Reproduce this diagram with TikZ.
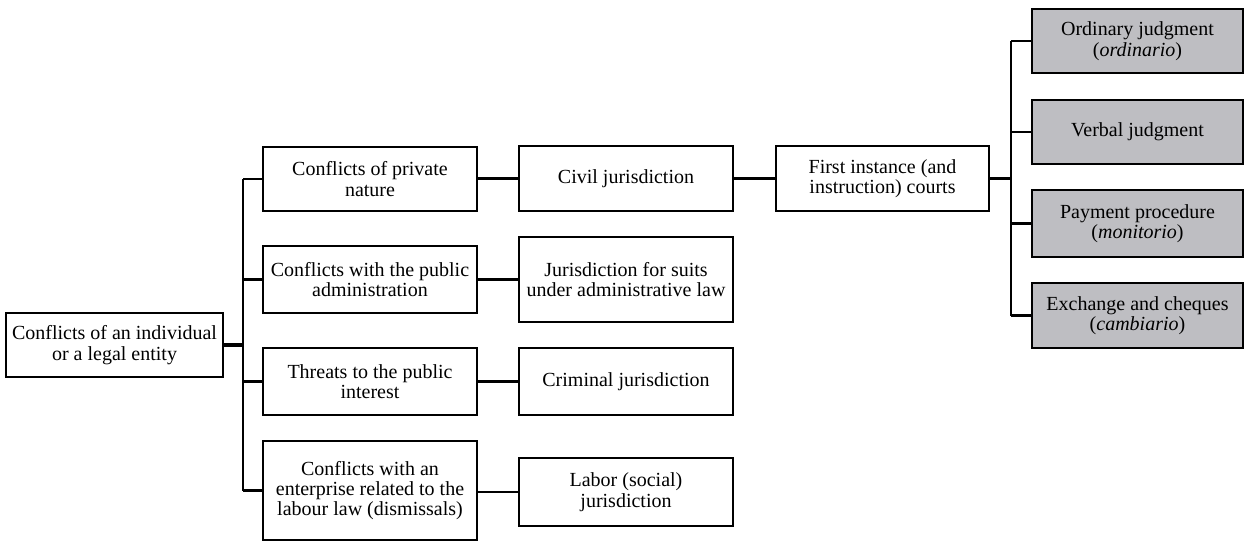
\documentclass[tikz,border=0pt]{standalone}
\usepackage{fontspec}
\setmainfont{Liberation Serif}
\definecolor{boxgrey}{RGB}{190,190,194}
\begin{document}
\begin{tikzpicture}[x=0.5pt,y=-0.5pt,
  box/.style={draw=black,line width=1.35pt,rectangle,inner sep=0pt,align=center,
    font=\fontsize{10}{10.2}\selectfont},
  greybox/.style={box,fill=boxgrey},
  conn/.style={line width=1.05pt},
  thick conn/.style={line width=1.6pt}]
\useasboundingbox (0,0) rectangle (1246,542);
% root
\node[box,minimum width=108.5pt,minimum height=32pt] (root) at (114.5,345) {Conflicts of an individual\\or a legal entity};
% column 2
\node[box,minimum width=107pt,minimum height=32pt] (b1) at (370,179) {Conflicts of private\\nature};
\node[box,minimum width=107pt,minimum height=33.5pt] (b2) at (370,279.5) {Conflicts with the public\\administration};
\node[box,minimum width=107pt,minimum height=33.5pt] (b3) at (370,381.5) {Threats to the public\\interest};
\node[box,minimum width=107pt,minimum height=49.5pt] (b4) at (370,490.5) {Conflicts with an\\enterprise related to the\\labour law (dismissals)};
% column 3
\node[box,minimum width=107pt,minimum height=32.5pt] (c1) at (626,178.5) {Civil jurisdiction};
\node[box,minimum width=107pt,minimum height=42.5pt] (c2) at (626,279.5) {Jurisdiction for suits\\under administrative law};
\node[box,minimum width=107pt,minimum height=33.5pt] (c3) at (626,381.5) {Criminal jurisdiction};
\node[box,minimum width=107pt,minimum height=34pt] (c4) at (626,492) {Labor (social)\\jurisdiction};
% column 4
\node[box,minimum width=106.5pt,minimum height=32.5pt] (d1) at (882.5,178.5) {First instance (and\\instruction) courts};
% column 5
\node[greybox,minimum width=105.5pt,minimum height=32pt] (g1) at (1137.5,41) {Ordinary judgment\\(\textit{ordinario})};
\node[greybox,minimum width=105.5pt,minimum height=32pt] (g2) at (1137.5,132) {Verbal judgment};
\node[greybox,minimum width=105.5pt,minimum height=33.5pt] (g3) at (1137.5,223.5) {Payment procedure\\(\textit{monitorio})};
\node[greybox,minimum width=105.5pt,minimum height=32.5pt] (g4) at (1137.5,315.5) {Exchange and cheques\\(\textit{cambiario})};
% buses
\coordinate (bus1) at (243,345);
\coordinate (bus2) at (1011,178.5);
% root to column 2
\draw[thick conn] (root.east) -- (bus1);
\draw[conn] (bus1 |- b1.west) -- (bus1 |- b4.west);
\foreach \n in {b1,b2,b3,b4} \draw[conn] (bus1 |- \n.west) -- (\n.west);
% column 2 to column 3
\draw[conn] (b1.east |- c1.west) -- (c1.west);
\draw[conn] (b2.east |- c2.west) -- (c2.west);
\draw[conn] (b3.east |- c3.west) -- (c3.west);
\draw[conn] (b4.east |- c4.west) -- (c4.west);
% civil to first instance
\draw[conn] (c1.east) -- (d1.west);
% first instance to column 5
\draw[thick conn] (d1.east) -- (bus2);
\draw[conn] (bus2 |- g1.west) -- (bus2 |- g4.west);
\foreach \n in {g1,g2,g3,g4} \draw[conn] (bus2 |- \n.west) -- (\n.west);
\end{tikzpicture}
\end{document}
